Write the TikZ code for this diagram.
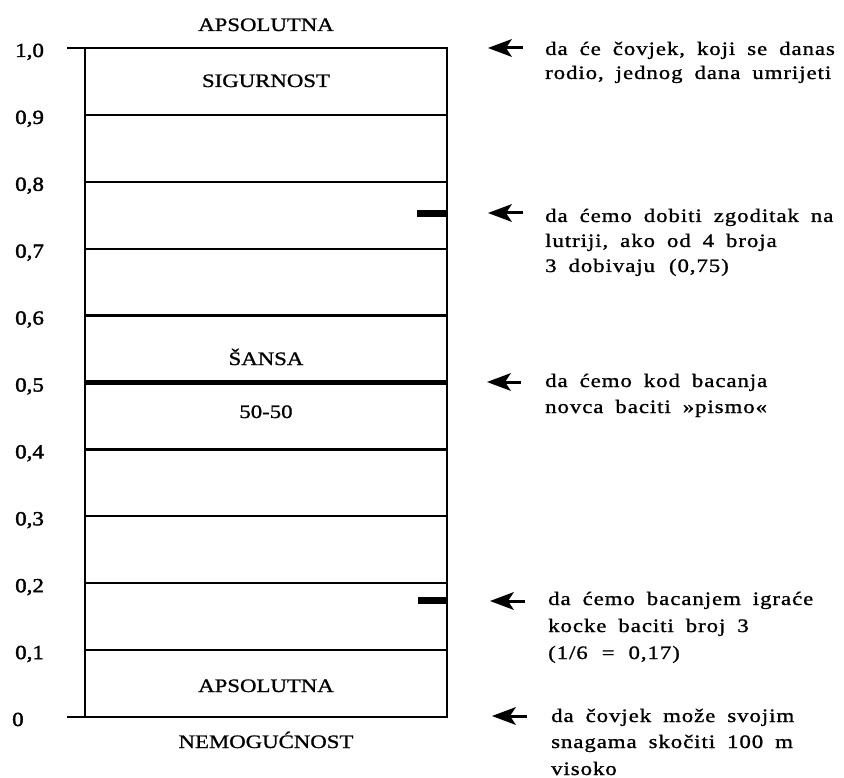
\documentclass[tikz,border=0pt]{standalone}
\usepackage{fontspec}
\setmainfont{Liberation Serif}[FakeStretch=1.2,FakeBold=1]
\newfontfamily\notefont{Liberation Serif}[FakeStretch=1.2,FakeBold=1.1,LetterSpace=5,WordSpace=1.8]
\newfontfamily\numfont{Liberation Serif}[FakeStretch=1.15,FakeBold=1.8]
\begin{document}
\begin{tikzpicture}[x=1pt,y=-1pt,
  grid/.style={line width=2.2pt},
  midline/.style={line width=4.5pt},
  lab/.style={font=\fontsize{19}{26}\selectfont, inner sep=0pt, anchor=base},
  num/.style={font=\numfont\fontsize{20}{26}\selectfont, inner sep=0pt, anchor=base west},
  note/.style={font=\notefont\fontsize{19}{26}\selectfont, inner sep=0pt, anchor=base west},
  shaft/.style={line width=3pt},
  head/.style={fill=black},
  bar/.style={fill=black}]
\useasboundingbox (0,0) rectangle (844,778);

% box
\draw[grid, line join=miter] (67,48) -- (447,48) -- (447,717) -- (67,717);
\draw[grid] (85,48) -- (85,717);
\foreach \v/\y in {9/114.9, 8/181.8, 7/248.7, 6/315.6, 4/449.4, 3/516.3, 2/583.2, 1/650.1}
  \draw[grid] (85,\y) -- (447,\y);
\draw[midline] (85,382.5) -- (447,382.5);

% markers
\fill[bar] (417,210.5) rectangle (447,217.5);
\fill[bar] (418,596.5) rectangle (447,603.5);

% scale numbers
\node[num] (n10) at (15,57) {1,0};
\node[num] (n09) at (15,123.9) {0,9};
\node[num] (n08) at (15,190.8) {0,8};
\node[num] (n07) at (15,257.7) {0,7};
\node[num] (n06) at (15,324.6) {0,6};
\node[num] (n05) at (15,391.5) {0,5};
\node[num] (n04) at (15,458.4) {0,4};
\node[num] (n03) at (15,525.3) {0,3};
\node[num] (n02) at (15,592.2) {0,2};
\node[num] (n01) at (15,659.1) {0,1};
\node[num] (n00) at (12,726) {0};

% labels in the box
\node[lab] (l1) at (266,31) {APSOLUTNA};
\node[lab] (l2) at (266,87) {SIGURNOST};
\node[lab] (l3) at (266,365) {ŠANSA};
\node[lab] (l4) at (266,418) {50-50};
\node[lab] (l5) at (266,692) {APSOLUTNA};
\node[lab] (l6) at (266,748) {NEMOGUĆNOST};

% arrows
\coordinate (a1s) at (523,48);  \coordinate (a1e) at (488,48);
\coordinate (a2s) at (523,213); \coordinate (a2e) at (488,213);
\coordinate (a3s) at (521,382); \coordinate (a3e) at (487,382);
\coordinate (a4s) at (525,601); \coordinate (a4e) at (490,601);
\coordinate (a5s) at (527,716); \coordinate (a5e) at (492,716);
\foreach \s/\e in {a1s/a1e, a2s/a2e, a3s/a3e, a4s/a4e, a5s/a5e}{
  \draw[shaft] (\s) -- ([xshift=14pt]\e);
  \fill[head] (\e) -- ++(24,-9) -- ++(-6,9) -- ++(6,9) -- cycle;
}

% notes
\node[note] (t1a) at (545,55) {da će čovjek, koji se danas};
\node[note] (t1b) at (545,79) {rodio, jednog dana umrijeti};

\node[note] (t2a) at (545,222) {da ćemo dobiti zgoditak na};
\node[note] (t2b) at (545,247) {lutriji, ako od 4 broja};
\node[note] (t2c) at (545,272) {3 dobivaju \kern2pt(0,75)};

\node[note] (t3a) at (545,387) {da ćemo kod bacanja};
\node[note] (t3b) at (545,413) {novca baciti »pismo«};

\node[note] (t4a) at (548,605) {da ćemo bacanjem igraće};
\node[note] (t4b) at (548,632) {kocke baciti broj 3};
\node[note] (t4c) at (548,659) {(1/6 \kern2pt= \kern2pt0,17)};

\node[note] (t5a) at (551,722) {da čovjek može svojim};
\node[note] (t5b) at (551,748) {snagama skočiti 100 m};
\node[note] (t5c) at (551,775) {visoko};
\end{tikzpicture}
\end{document}
